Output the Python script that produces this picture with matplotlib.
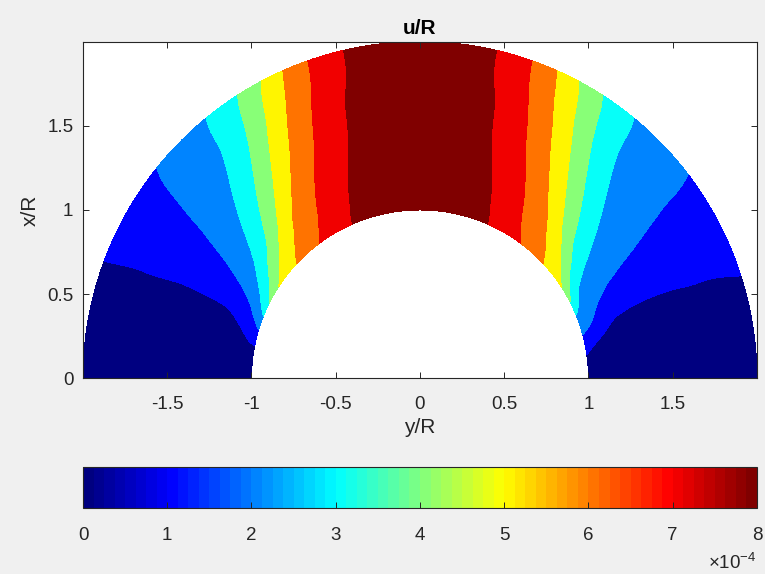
import numpy as np
import matplotlib
matplotlib.use('Agg')
import matplotlib.pyplot as plt
import matplotlib.tri as mtri
from matplotlib.colors import LinearSegmentedColormap, Normalize
from matplotlib.cm import ScalarMappable

plt.rcParams['font.family'] = ['Liberation Sans', 'DejaVu Sans']
plt.rcParams['mathtext.default'] = 'regular'

# polar sample grid of the field (angle measured from the right end of the base)
radii = [1.0, 1.1, 1.25, 1.5, 1.75, 2.0]
angles_deg = [0, 10, 20, 30, 40, 50, 60, 70, 80, 90,
              100, 110, 120, 130, 140, 150, 160, 170, 180]
# u/R in units of 1e-4, one row per radius
u_r100 = [0.0, 1.30, 2.64, 4.60, 5.70, 6.71, 7.55, 8.21, 8.58, 8.70,
          8.58, 8.21, 7.55, 6.71, 5.70, 4.60, 2.67, 0.83, 0.0]
u_r110 = [0.0, 0.65, 1.98, 2.91, 4.89, 6.27, 7.32, 8.14, 8.57, 8.72,
          8.57, 8.14, 7.32, 6.27, 4.89, 3.06, 1.49, 0.60, 0.0]
u_r125 = [0.0, 0.54, 1.19, 2.33, 3.49, 5.51, 6.96, 7.99, 8.56, 8.75,
          8.56, 7.99, 6.96, 5.51, 3.49, 2.13, 0.95, 0.48, 0.0]
u_r150 = [0.0, 0.51, 1.04, 1.87, 2.64, 4.12, 6.15, 7.62, 8.52, 8.80,
          8.52, 7.62, 6.15, 4.12, 2.64, 1.68, 0.90, 0.45, 0.0]
u_r175 = [0.0, 0.53, 1.06, 1.69, 2.28, 3.24, 5.29, 7.25, 8.46, 8.85,
          8.46, 7.25, 5.29, 3.24, 2.28, 1.56, 0.94, 0.47, 0.0]
u_r200 = [0.0, 0.57, 1.12, 1.63, 2.15, 2.93, 4.56, 6.89, 8.36, 8.85,
          8.36, 6.89, 4.56, 2.93, 2.09, 1.52, 0.98, 0.49, 0.0]
u_scale = 1e-4

levels = [0, 1, 2, 3, 4, 5, 6, 7, 8]
cbar_ticks = [0, 1, 2, 3, 4, 5, 6, 7, 8]
xticks = [-1.5, -1, -0.5, 0, 0.5, 1, 1.5]
xtick_labels = ['-1.5', '-1', '-0.5', '0', '0.5', '1', '1.5']
yticks = [0, 0.5, 1, 1.5]
ytick_labels = ['0', '0.5', '1', '1.5']

# MATLAB style jet with 64 entries
jet_m = LinearSegmentedColormap.from_list(
    'jet_m',
    [(0.0, (0, 0, 0.5)), (0.125, (0, 0, 1)), (0.375, (0, 1, 1)),
     (0.625, (1, 1, 0)), (0.875, (1, 0, 0)), (1.0, (0.5, 0, 0))], N=64)

U = np.array([u_r100, u_r110, u_r125, u_r150, u_r175, u_r200]) * u_scale
R, PHI = np.meshgrid(radii, np.radians(angles_deg), indexing='ij')
nr, na = R.shape
half = (na - 1) // 2
tris = []
for i in range(nr - 1):
    for j in range(na - 1):
        a = i * na + j
        if j < half:
            tris.append([a, a + 1, a + na + 1])
            tris.append([a, a + na + 1, a + na])
        else:
            tris.append([a, a + 1, a + na])
            tris.append([a + 1, a + na + 1, a + na])

# refine in (r, arc) parameter space so the arcs stay round
s = 1.5
tri_p = mtri.Triangulation(R.ravel(), PHI.ravel() * s, np.array(tris))
interp = mtri.CubicTriInterpolator(tri_p, U.ravel(), kind='min_E')
fine, u_fine = mtri.UniformTriRefiner(tri_p).refine_field(
    U.ravel(), triinterpolator=interp, subdiv=4)
phi_f = fine.y / s
X = fine.x * np.cos(phi_f)
Y = fine.x * np.sin(phi_f)
tri_xy = mtri.Triangulation(X, Y, fine.triangles)

bounds = [-1] + levels[1:] + [levels[-1] + 2]
bounds = [b * u_scale for b in bounds]
vmax = levels[-1] * u_scale
band_colors = [jet_m(lv * u_scale / vmax) for lv in levels]

fig = plt.figure(figsize=(7.65, 5.74), dpi=100, facecolor='#f0f0f0')
ax = fig.add_axes([0.1085, 0.3397, 0.881, 0.5889])
ax.set_facecolor('white')
ax.tricontourf(tri_xy, u_fine, levels=bounds, colors=band_colors)

ax.set_xlim(-2, 2)
ax.set_ylim(0, 2)
ax.set_aspect('equal')
ax.set_xticks(xticks)
ax.set_xticklabels(xtick_labels)
ax.set_yticks(yticks)
ax.set_yticklabels(ytick_labels)
ax.tick_params(direction='in', length=4.5, width=0.7, color='#262626',
               labelcolor='#262626', labelsize=13.5, top=True, right=True)
ax.tick_params(axis='x', pad=12.5)
ax.tick_params(axis='y', pad=7)
for sp in ax.spines.values():
    sp.set_color('#262626')
    sp.set_linewidth(0.8)
ax.set_xlabel('y/R', fontsize=15, color='#262626', labelpad=4)
ax.set_ylabel('x/R', fontsize=15, color='#262626', labelpad=5)
ax.set_title('u/R', fontsize=15, fontweight='bold', pad=5.4)

cax = fig.add_axes([0.1085, 0.115, 0.881, 0.0714])
sm = ScalarMappable(norm=Normalize(0, vmax), cmap=jet_m)
cb = fig.colorbar(sm, cax=cax, orientation='horizontal',
                  ticks=[t * u_scale for t in cbar_ticks])
cb.ax.set_xticklabels([str(t) for t in cbar_ticks])
cb.ax.tick_params(direction='in', length=4.5, width=0.7, color='#262626',
                  labelcolor='#262626', labelsize=13.5, pad=14)
cb.outline.set_edgecolor('#262626')
cb.outline.set_linewidth(0.8)
fig.text(0.989, 0.008, r'$\times10^{-4}$', ha='right', va='baseline',
         fontsize=13.5, color='#262626')

fig.savefig('out.png', dpi=100, facecolor=fig.get_facecolor())
